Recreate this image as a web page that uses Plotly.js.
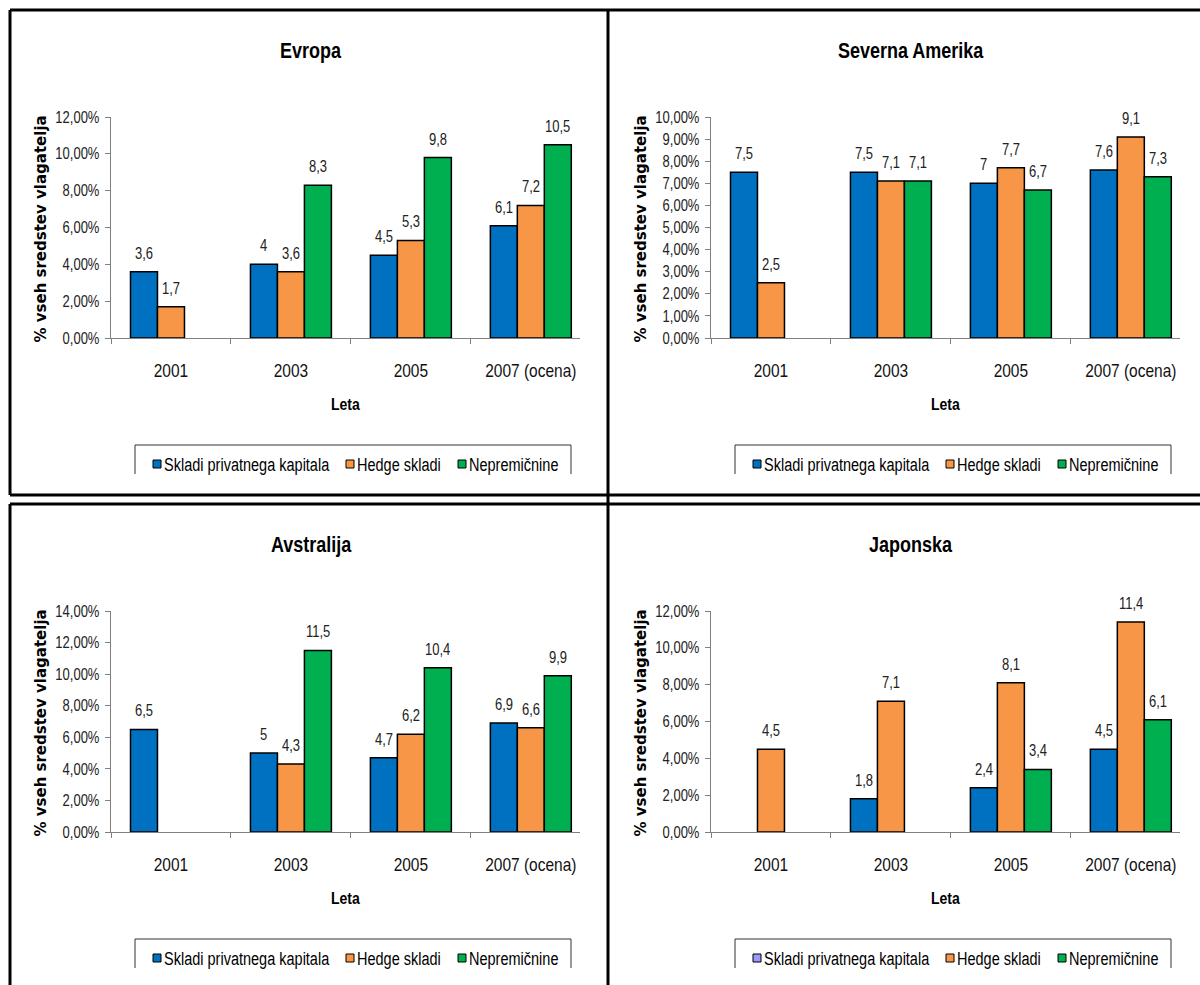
<!DOCTYPE html>
<html>
<head>
<meta charset="utf-8">
<script src="https://cdn.plot.ly/plotly-3.0.1.min.js"></script>
<style>
  html, body { margin: 0; padding: 0; background: #fff; }
  #chart { width: 1200px; height: 985px; }
</style>
</head>
<body>
<div id="chart"></div>
<script>
// ---------- DATA ----------
const categories = ['2001', '2003', '2005', '2007 (ocena)'];
const seriesNames = ['Skladi privatnega kapitala', 'Hedge skladi', 'Nepremičnine'];

const evropaSkladi = [3.6, 4, 4.5, 6.1];
const evropaHedge  = [1.7, 3.6, 5.3, 7.2];
const evropaNepr   = [null, 8.3, 9.8, 10.5];

const amerikaSkladi = [7.5, 7.5, 7, 7.6];
const amerikaHedge  = [2.5, 7.1, 7.7, 9.1];
const amerikaNepr   = [null, 7.1, 6.7, 7.3];

const avstralijaSkladi = [6.5, 5, 4.7, 6.9];
const avstralijaHedge  = [null, 4.3, 6.2, 6.6];
const avstralijaNepr   = [null, 11.5, 10.4, 9.9];

const japonskaSkladi = [null, 1.8, 2.4, 4.5];
const japonskaHedge  = [4.5, 7.1, 8.1, 11.4];
const japonskaNepr   = [null, null, 3.4, 6.1];

const panelTitles = ['Evropa', 'Severna Amerika', 'Avstralija', 'Japonska'];
const panelSeries = [
  [evropaSkladi, evropaHedge, evropaNepr],
  [amerikaSkladi, amerikaHedge, amerikaNepr],
  [avstralijaSkladi, avstralijaHedge, avstralijaNepr],
  [japonskaSkladi, japonskaHedge, japonskaNepr]
];
const panelYMax  = [12, 10, 14, 12];
const panelYStep = [2, 1, 2, 2];
const xTitle = 'Leta';
const yTitle = '% vseh sredstev vlagatelja';

// ---------- STYLE / GEOMETRY ----------
const W = 1200, H = 985;
const colors = ['#0070C0', '#F79646', '#00B050'];
const legendColorsPerPanel = [colors, colors, colors, ['#9999FF', '#F79646', '#00B050']];
const SANS = '"Liberation Sans", Arial, sans-serif';
const BOLDWIDE = '"DejaVu Sans", "Liberation Sans", Arial, sans-serif';
const STRETCH = 1.24;   // reference text is vertically stretched
const BARGAP = 0.325;
const BW = (1 - BARGAP) / 3;

const px = x => x / W;
const py = y => 1 - y / H;

const offsets = [[0, 0], [600, 0], [0, 494], [600, 494]];
const base = {
  plotL: 111, plotR: 580, plotT: 117, plotB: 338,
  titleX: 311, titleY: 50,
  yTitleX: 40,
  legL: 135, legR: 571, legT: 445, legB: 474, legTextY: 465,
  legMarkers: [153, 346, 458]
};

const fmt = v => String(v).replace('.', ',');

const data = [];
const annotations = [];
const shapes = [];
const layout = {
  width: W, height: H,
  margin: { l: 0, r: 0, t: 0, b: 0 },
  paper_bgcolor: '#fff', plot_bgcolor: 'rgba(0,0,0,0)',
  barmode: 'group', bargap: BARGAP, bargroupgap: 0,
  separators: ',.',
  showlegend: false,
  font: { family: SANS, size: 14, color: '#222' }
};

panelSeries.forEach((series, p) => {
  const n = p + 1;
  const xa = n === 1 ? 'x' : 'x' + n;
  const ya = n === 1 ? 'y' : 'y' + n;
  const [ox, oy] = offsets[p];

  series.forEach((vals, k) => {
    data.push({
      type: 'bar', x: categories, y: vals, name: seriesNames[k],
      xaxis: xa, yaxis: ya,
      marker: { color: colors[k], line: { color: '#000', width: 1.5 } },
      hoverinfo: 'x+y+name'
    });
    vals.forEach((v, i) => {
      if (v === null) return;
      annotations.push({
        xref: xa, yref: ya, x: i + (k - 1) * BW, y: v,
        text: fmt(v), showarrow: false, yanchor: 'bottom', yshift: 9,
        font: { family: SANS, size: 13, color: '#222' }
      });
    });
  });

  layout['xaxis' + (n === 1 ? '' : n)] = {
    domain: [px(base.plotL + ox), px(base.plotR + ox)],
    anchor: ya, type: 'category', range: [-0.5, 3.41],
    showline: true, linecolor: '#808080', linewidth: 1,
    ticks: 'outside', tickson: 'boundaries', ticklen: 5, tickcolor: '#808080',
    showgrid: false, zeroline: false, fixedrange: true,
    ticklabelstandoff: 18,
    tickfont: { family: SANS, size: 15.5, color: '#111' }
  };
  layout['yaxis' + (n === 1 ? '' : n)] = {
    domain: [py(base.plotB + oy), py(base.plotT + oy)],
    anchor: xa, range: [0, panelYMax[p]], dtick: panelYStep[p], tick0: 0,
    tickformat: '.2f', ticksuffix: '%',
    showline: true, linecolor: '#808080', linewidth: 1,
    ticks: 'outside', ticklen: 5, tickcolor: '#808080',
    showgrid: false, zeroline: false, fixedrange: true,
    ticklabelstandoff: 3,
    tickfont: { family: SANS, size: 13, color: '#222' }
  };

  annotations.push({
    xref: 'paper', yref: 'paper', x: px(base.titleX + ox), y: py(base.titleY + oy),
    text: '<b>' + panelTitles[p] + '</b>', showarrow: false, xanchor: 'center', yanchor: 'middle',
    font: { family: SANS, size: 18, color: '#000' }
  });
  annotations.push({
    xref: 'paper', yref: 'paper', x: px((base.plotL + base.plotR) / 2 + ox), y: py(404 + oy),
    text: '<b>' + xTitle + '</b>', showarrow: false, xanchor: 'center', yanchor: 'middle',
    font: { family: SANS, size: 14, color: '#000' }
  });
  annotations.push({
    xref: 'paper', yref: 'paper', x: px(base.yTitleX + ox), y: py((base.plotT + base.plotB) / 2 + 2 + oy),
    text: '<b>' + yTitle + '</b>', showarrow: false, textangle: -90, xanchor: 'center', yanchor: 'middle',
    font: { family: BOLDWIDE, size: 15, color: '#000' }
  });

  const L = px(base.legL + ox), R = px(base.legR + ox), T = py(base.legT + oy), B = py(base.legB + oy);
  shapes.push({
    type: 'path', xref: 'paper', yref: 'paper',
    path: `M ${L},${B} L ${L},${T} L ${R},${T} L ${R},${B}`,
    line: { color: '#333', width: 1 }
  });
  base.legMarkers.forEach((mx, k) => {
    shapes.push({
      type: 'rect', xref: 'paper', yref: 'paper',
      x0: px(mx + ox), x1: px(mx + 8 + ox),
      y0: py(base.legTextY - 5 + oy), y1: py(base.legTextY + 3 + oy),
      fillcolor: legendColorsPerPanel[p][k], line: { color: '#000', width: 1 }
    });
    annotations.push({
      xref: 'paper', yref: 'paper', x: px(mx + 9 + ox), y: py(base.legTextY + oy),
      text: seriesNames[k], showarrow: false, xanchor: 'left', yanchor: 'middle',
      font: { family: SANS, size: 14.5, color: '#000' }
    });
  });
});

const frame = [
  [10, 10, 1200, 10], [10, 495, 1200, 495], [10, 504, 1200, 504],
  [10, 10, 10, 495], [10, 504, 10, 985], [608, 10, 608, 985]
];
frame.forEach(([x0, y0, x1, y1]) => {
  shapes.push({
    type: 'line', xref: 'paper', yref: 'paper',
    x0: px(x0), y0: py(y0), x1: px(x1), y1: py(y1),
    line: { color: '#000', width: 3 }
  });
});

layout.annotations = annotations;
layout.shapes = shapes;

function stretchTexts(gd) {
  gd.querySelectorAll('svg text').forEach(t => {
    if (t.textContent === yTitle) return;
    const fs = parseFloat(t.style.fontSize) || 14;
    const y = parseFloat(t.getAttribute('y')) || 0;
    const cy = y - 0.35 * fs;
    const old = t.getAttribute('transform') || '';
    t.setAttribute('transform', `${old} translate(0,${cy}) scale(1,${STRETCH}) translate(0,${-cy})`);
  });
}

Plotly.newPlot('chart', data, layout, { displayModeBar: false, staticPlot: true })
  .then(gd => stretchTexts(gd));
</script>
</body>
</html>
